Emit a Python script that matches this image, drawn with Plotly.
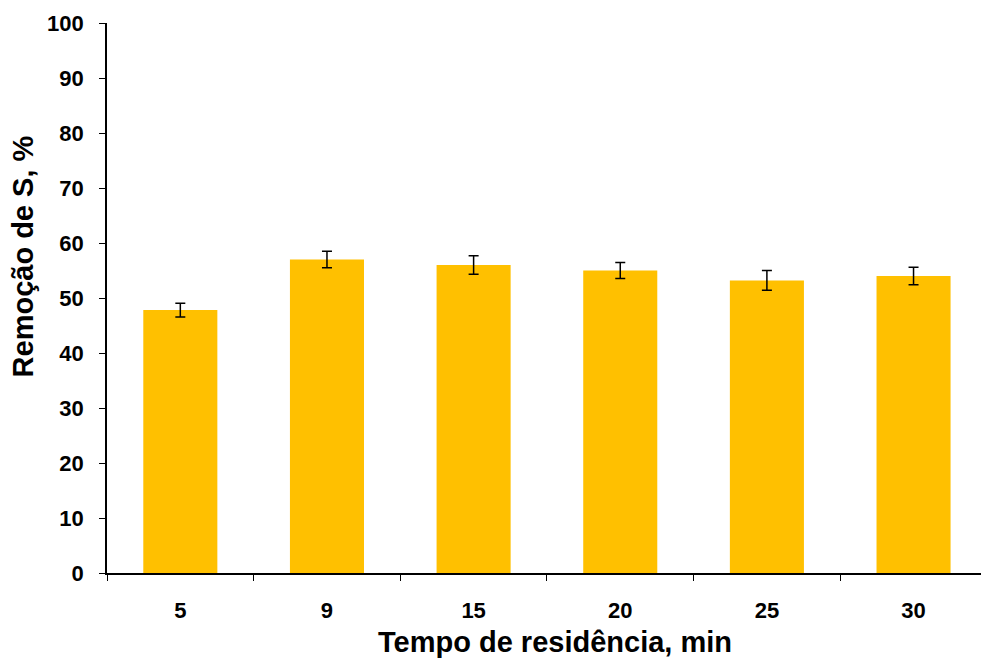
import plotly.graph_objects as go

# Residence time categories (min) and sulfur removal (%) with error
tempo = ["5", "9", "15", "20", "25", "30"]
remocao = [47.8, 57.0, 56.0, 55.0, 53.2, 54.0]
erro = [1.25, 1.5, 1.7, 1.45, 1.8, 1.6]

x_title = "Tempo de residência, min"
y_title = "Remoção de S, %"

font_family = "Liberation Sans, Arial, sans-serif"

fig = go.Figure()
fig.add_trace(go.Bar(
    x=tempo,
    y=remocao,
    marker=dict(color="#FFC000", line=dict(width=0)),
    error_y=dict(type="data", array=erro, visible=True,
                 color="black", thickness=1.5, width=5),
))

fig.update_layout(
    width=981,
    height=660,
    margin=dict(l=107, r=0, t=23, b=87),
    paper_bgcolor="white",
    plot_bgcolor="white",
    bargap=0.495,
    showlegend=False,
    font=dict(family=font_family, color="black"),
    annotations=[
        dict(text="<b>%s</b>" % x_title, xref="paper", yref="paper",
             x=0.5126, y=-0.125, xanchor="center", yanchor="middle",
             showarrow=False, font=dict(size=29, family=font_family)),
        dict(text="<b>%s</b>" % y_title, xref="paper", yref="paper",
             x=-0.095, y=0.5755, xanchor="center", yanchor="middle",
             textangle=-90, showarrow=False,
             font=dict(size=29, family=font_family)),
    ],
)

fig.update_xaxes(
    type="category",
    range=[-0.5, 5.46],
    showline=True, linecolor="black", linewidth=1.7,
    ticks="outside", ticklen=6, tickwidth=1.2, tickcolor="black",
    tickson="boundaries",
    ticklabelstandoff=17,
    tickfont=dict(size=22, family=font_family, weight="bold"),
    showgrid=False, zeroline=False,
)

fig.update_yaxes(
    range=[0, 100],
    tickvals=list(range(0, 101, 10)),
    showline=True, linecolor="black", linewidth=1.7,
    ticks="outside", ticklen=6, tickwidth=1.2, tickcolor="black",
    ticklabelstandoff=11,
    tickfont=dict(size=22, family=font_family, weight="bold"),
    showgrid=False, zeroline=False,
)

fig.write_html("out.html")
